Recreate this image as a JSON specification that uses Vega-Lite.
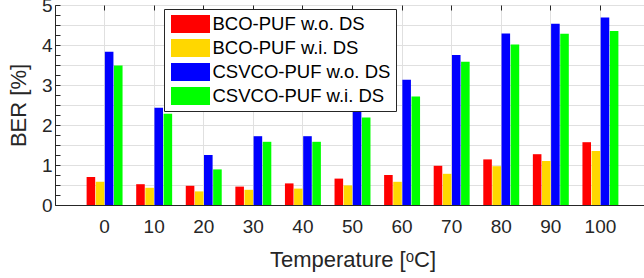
{
  "$schema": "https://vega.github.io/schema/vega-lite/v6.json",
  "width": 595,
  "height": 200,
  "autosize": {"type": "none"},
  "padding": {"left": 55, "top": 5, "right": 0, "bottom": 73},
  "background": "white",
  "config": {
    "font": "Liberation Sans",
    "view": {"stroke": "#262626", "strokeWidth": 1}
  },
  "data": {
    "values": [
      {"t": 0, "s": "BCO-PUF w.o. DS", "v": 0.70},
      {"t": 0, "s": "BCO-PUF w.i. DS", "v": 0.58},
      {"t": 0, "s": "CSVCO-PUF w.o. DS", "v": 3.83},
      {"t": 0, "s": "CSVCO-PUF w.i. DS", "v": 3.49},
      {"t": 10, "s": "BCO-PUF w.o. DS", "v": 0.52},
      {"t": 10, "s": "BCO-PUF w.i. DS", "v": 0.43},
      {"t": 10, "s": "CSVCO-PUF w.o. DS", "v": 2.43},
      {"t": 10, "s": "CSVCO-PUF w.i. DS", "v": 2.28},
      {"t": 20, "s": "BCO-PUF w.o. DS", "v": 0.48},
      {"t": 20, "s": "BCO-PUF w.i. DS", "v": 0.34},
      {"t": 20, "s": "CSVCO-PUF w.o. DS", "v": 1.25},
      {"t": 20, "s": "CSVCO-PUF w.i. DS", "v": 0.89},
      {"t": 30, "s": "BCO-PUF w.o. DS", "v": 0.46},
      {"t": 30, "s": "BCO-PUF w.i. DS", "v": 0.38},
      {"t": 30, "s": "CSVCO-PUF w.o. DS", "v": 1.72},
      {"t": 30, "s": "CSVCO-PUF w.i. DS", "v": 1.58},
      {"t": 40, "s": "BCO-PUF w.o. DS", "v": 0.54},
      {"t": 40, "s": "BCO-PUF w.i. DS", "v": 0.41},
      {"t": 40, "s": "CSVCO-PUF w.o. DS", "v": 1.72},
      {"t": 40, "s": "CSVCO-PUF w.i. DS", "v": 1.58},
      {"t": 50, "s": "BCO-PUF w.o. DS", "v": 0.66},
      {"t": 50, "s": "BCO-PUF w.i. DS", "v": 0.49},
      {"t": 50, "s": "CSVCO-PUF w.o. DS", "v": 2.45},
      {"t": 50, "s": "CSVCO-PUF w.i. DS", "v": 2.19},
      {"t": 60, "s": "BCO-PUF w.o. DS", "v": 0.75},
      {"t": 60, "s": "BCO-PUF w.i. DS", "v": 0.58},
      {"t": 60, "s": "CSVCO-PUF w.o. DS", "v": 3.13},
      {"t": 60, "s": "CSVCO-PUF w.i. DS", "v": 2.71},
      {"t": 70, "s": "BCO-PUF w.o. DS", "v": 0.98},
      {"t": 70, "s": "BCO-PUF w.i. DS", "v": 0.78},
      {"t": 70, "s": "CSVCO-PUF w.o. DS", "v": 3.75},
      {"t": 70, "s": "CSVCO-PUF w.i. DS", "v": 3.58},
      {"t": 80, "s": "BCO-PUF w.o. DS", "v": 1.14},
      {"t": 80, "s": "BCO-PUF w.i. DS", "v": 0.97},
      {"t": 80, "s": "CSVCO-PUF w.o. DS", "v": 4.29},
      {"t": 80, "s": "CSVCO-PUF w.i. DS", "v": 4.01},
      {"t": 90, "s": "BCO-PUF w.o. DS", "v": 1.27},
      {"t": 90, "s": "BCO-PUF w.i. DS", "v": 1.10},
      {"t": 90, "s": "CSVCO-PUF w.o. DS", "v": 4.53},
      {"t": 90, "s": "CSVCO-PUF w.i. DS", "v": 4.28},
      {"t": 100, "s": "BCO-PUF w.o. DS", "v": 1.57},
      {"t": 100, "s": "BCO-PUF w.i. DS", "v": 1.35},
      {"t": 100, "s": "CSVCO-PUF w.o. DS", "v": 4.69},
      {"t": 100, "s": "CSVCO-PUF w.i. DS", "v": 4.35}
    ]
  },
  "layer": [
    {
      "mark": {"type": "bar"},
      "encoding": {
        "x": {
          "field": "t",
          "type": "ordinal",
          "scale": {"paddingInner": 0.275, "paddingOuter": 0.6375},
          "axis": {
            "title": "Temperature [ᵒC]",
            "labelAngle": 0,
            "ticks": false,
            "grid": true,
            "gridColor": "#e0e0e0",
            "domainColor": "#262626",
            "labelFontSize": 19,
            "labelColor": "#262626",
            "labelPadding": 12,
            "titleFontSize": 22,
            "titleFontWeight": "normal",
            "titleColor": "#262626",
            "titlePadding": 13
          }
        },
        "xOffset": {
          "field": "s",
          "type": "nominal",
          "sort": ["BCO-PUF w.o. DS", "BCO-PUF w.i. DS", "CSVCO-PUF w.o. DS", "CSVCO-PUF w.i. DS"],
          "scale": {"paddingInner": 0.06, "paddingOuter": 0}
        },
        "y": {
          "field": "v",
          "type": "quantitative",
          "scale": {"domain": [0, 5], "nice": false},
          "axis": {
            "title": "BER [%]",
            "values": [0, 0.25, 0.5, 0.75, 1, 1.25, 1.5, 1.75, 2, 2.25, 2.5, 2.75, 3, 3.25, 3.5, 3.75, 4, 4.25, 4.5, 4.75, 5],
            "format": ".0f",
            "labelExpr": "datum.value % 1 === 0 ? datum.label : ''",
            "tickSize": -5,
            "tickColor": "#262626",
            "grid": true,
            "gridColor": {"condition": {"test": "datum.value % 0.5 === 0", "value": "#e0e0e0"}, "value": "transparent"},
            "domainColor": "#262626",
            "labelFontSize": 19,
            "labelColor": "#262626",
            "labelPadding": 8,
            "titleFontSize": 22,
            "titleFontWeight": "normal",
            "titleColor": "#262626",
            "titlePadding": 11
          }
        },
        "color": {
          "field": "s",
          "type": "nominal",
          "sort": ["BCO-PUF w.o. DS", "BCO-PUF w.i. DS", "CSVCO-PUF w.o. DS", "CSVCO-PUF w.i. DS"],
          "scale": {
            "domain": ["BCO-PUF w.o. DS", "BCO-PUF w.i. DS", "CSVCO-PUF w.o. DS", "CSVCO-PUF w.i. DS"],
            "range": ["#ff0000", "#ffd700", "#0000ff", "#00ff00"]
          },
          "legend": {
            "orient": "none",
            "legendX": 109,
            "legendY": 4,
            "title": null,
            "direction": "vertical",
            "fillColor": "white",
            "strokeColor": "#262626",
            "padding": 5,
            "labelFont": "Liberation Sans",
            "labelFontSize": 18.5,
            "labelColor": "#000000",
            "labelOffset": 12,
            "labelLimit": 400,
            "symbolType": "M-1.95,-0.9H1.95V0.9H-1.95Z",
            "symbolSize": 400,
            "symbolOffset": 11.5,
            "symbolStrokeWidth": 0,
            "symbolOpacity": 1,
            "rowPadding": 4
          }
        }
      }
    },
    {
      "mark": {"type": "rule", "strokeOpacity": 0},
      "encoding": {
        "x": {
          "field": "t",
          "type": "ordinal",
          "axis": {
            "orient": "top",
            "title": null,
            "labels": false,
            "grid": false,
            "domain": false,
            "tickSize": -5,
            "tickColor": "#262626"
          }
        }
      }
    }
  ],
  "resolve": {"axis": {"x": "independent"}}
}
